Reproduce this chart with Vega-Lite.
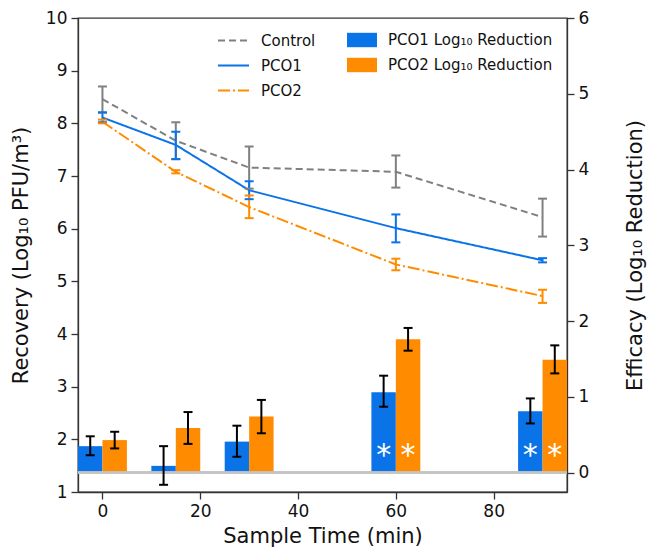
{
  "$schema": "https://vega.github.io/schema/vega-lite/v6.json",
  "width": 489,
  "height": 474,
  "padding": {"left": 10, "top": 9, "right": 5, "bottom": 5},
  "config": {
    "font": "DejaVu Sans",
    "view": {"stroke": "#333333", "strokeWidth": 1.3},
    "axis": {
      "grid": false,
      "domainColor": "#333333",
      "domainWidth": 1.3,
      "tickColor": "#333333",
      "tickWidth": 1.3,
      "tickSize": 7,
      "labelColor": "#111111",
      "titleColor": "#111111",
      "labelFontSize": 17,
      "titleFontSize": 21,
      "titleFontWeight": "normal",
      "labelPadding": 4
    },
    "legend": {"labelFontSize": 15, "labelColor": "#111111", "labelLimit": 0}
  },
  "datasets": {
    "lines": [
      {"series": "Control", "time": 0, "value": 8.46, "lo": 8.20, "hi": 8.70},
      {"series": "Control", "time": 15, "value": 7.67, "lo": 7.32, "hi": 8.02},
      {"series": "Control", "time": 30, "value": 7.16, "lo": 6.76, "hi": 7.56},
      {"series": "Control", "time": 60, "value": 7.08, "lo": 6.78, "hi": 7.39},
      {"series": "Control", "time": 90, "value": 6.22, "lo": 5.85, "hi": 6.57},
      {"series": "PCO1", "time": 0, "value": 8.11, "lo": 8.02, "hi": 8.21},
      {"series": "PCO1", "time": 15, "value": 7.59, "lo": 7.32, "hi": 7.84},
      {"series": "PCO1", "time": 30, "value": 6.73, "lo": 6.56, "hi": 6.90},
      {"series": "PCO1", "time": 60, "value": 6.01, "lo": 5.74, "hi": 6.27},
      {"series": "PCO1", "time": 90, "value": 5.40, "lo": 5.36, "hi": 5.44},
      {"series": "PCO2", "time": 0, "value": 8.03, "lo": 8.00, "hi": 8.07},
      {"series": "PCO2", "time": 15, "value": 7.08, "lo": 7.05, "hi": 7.11},
      {"series": "PCO2", "time": 30, "value": 6.41, "lo": 6.20, "hi": 6.63},
      {"series": "PCO2", "time": 60, "value": 5.32, "lo": 5.21, "hi": 5.43},
      {"series": "PCO2", "time": 90, "value": 4.72, "lo": 4.59, "hi": 4.84}
    ],
    "bars": [
      {"group": "PCO1", "time": 0, "value": 0.35, "lo": 0.23, "hi": 0.48, "sig": false},
      {"group": "PCO1", "time": 15, "value": 0.09, "lo": -0.16, "hi": 0.35, "sig": false},
      {"group": "PCO1", "time": 30, "value": 0.41, "lo": 0.21, "hi": 0.62, "sig": false},
      {"group": "PCO1", "time": 60, "value": 1.06, "lo": 0.87, "hi": 1.28, "sig": true},
      {"group": "PCO1", "time": 90, "value": 0.81, "lo": 0.65, "hi": 0.98, "sig": true},
      {"group": "PCO2", "time": 0, "value": 0.43, "lo": 0.32, "hi": 0.54, "sig": false},
      {"group": "PCO2", "time": 15, "value": 0.59, "lo": 0.38, "hi": 0.80, "sig": false},
      {"group": "PCO2", "time": 30, "value": 0.74, "lo": 0.52, "hi": 0.96, "sig": false},
      {"group": "PCO2", "time": 60, "value": 1.76, "lo": 1.61, "hi": 1.91, "sig": true},
      {"group": "PCO2", "time": 90, "value": 1.49, "lo": 1.31, "hi": 1.68, "sig": true}
    ]
  },
  "layer": [
    {
      "data": {"name": "bars"},
      "transform": [
        {"calculate": "datum.time + (datum.group === 'PCO1' ? -5 : 0)", "as": "x0"},
        {"calculate": "datum.x0 + 5", "as": "x1"},
        {"calculate": "datum.x0 + 2.5", "as": "xm"}
      ],
      "layer": [
        {
          "mark": {"type": "bar", "stroke": null},
          "encoding": {
            "x": {"field": "x0", "type": "quantitative", "scale": {"domain": [-5, 95], "nice": false, "zero": false},
              "axis": {"values": [0, 20, 40, 60, 80], "title": "Sample Time (min)", "titlePadding": 6}},
            "x2": {"field": "x1"},
            "y": {"field": "value", "type": "quantitative",
              "scale": {"domain": [-0.255, 6], "nice": false, "zero": false},
              "axis": {"orient": "right", "values": [0, 1, 2, 3, 4, 5, 6], "format": "d", "title": "Efficacy (Log₁₀ Reduction)", "titleAngle": 270, "titleBaseline": "top", "titlePadding": 36}},
            "y2": {"datum": 0},
            "fill": {"field": "group", "type": "nominal",
              "scale": {"domain": ["PCO1", "PCO2"], "range": ["#0A73E8", "#FF8C00"]},
              "legend": {"orient": "none", "legendX": 269, "legendY": 7, "title": null,
                "symbolType": "M-1,-0.48H1V0.48H-1Z", "symbolSize": 900, "symbolStrokeWidth": 0,
                "labelFontSize": 15, "rowPadding": 2, "labelOffset": 11, "labelLimit": 0,
                "labelExpr": "datum.label + ' Log₁₀ Reduction'"}}
          }
        },
        {
          "mark": {"type": "rule", "color": "#c4c4c4", "strokeWidth": 2},
          "encoding": {"y": {"datum": 0, "type": "quantitative"}}
        },
        {
          "mark": {"type": "rule", "color": "#000000", "strokeWidth": 2},
          "encoding": {
            "x": {"field": "xm", "type": "quantitative"},
            "y": {"field": "lo", "type": "quantitative"},
            "y2": {"field": "hi"}
          }
        },
        {
          "mark": {"type": "point", "shape": "stroke", "size": 81, "strokeWidth": 2, "color": "#000000", "opacity": 1},
          "encoding": {
            "x": {"field": "xm", "type": "quantitative"},
            "y": {"field": "lo", "type": "quantitative"}
          }
        },
        {
          "mark": {"type": "point", "shape": "stroke", "size": 81, "strokeWidth": 2, "color": "#000000", "opacity": 1},
          "encoding": {
            "x": {"field": "xm", "type": "quantitative"},
            "y": {"field": "hi", "type": "quantitative"}
          }
        },
        {
          "transform": [{"filter": "datum.sig"}],
          "mark": {"type": "text", "color": "#ffffff", "fontSize": 30, "baseline": "alphabetic", "align": "center"},
          "encoding": {
            "x": {"field": "xm", "type": "quantitative"},
            "y": {"datum": 0.1, "type": "quantitative"},
            "text": {"value": "*"}
          }
        }
      ]
    },
    {
      "data": {"name": "lines"},
      "layer": [
        {
          "mark": {"type": "line", "strokeWidth": 2},
          "encoding": {
            "x": {"field": "time", "type": "quantitative"},
            "y": {"field": "value", "type": "quantitative",
              "scale": {"domain": [1, 10], "nice": false, "zero": false},
              "axis": {"orient": "left", "values": [1, 2, 3, 4, 5, 6, 7, 8, 9, 10], "title": "Recovery (Log₁₀ PFU/m³)", "titlePadding": 14}},
            "stroke": {"field": "series", "type": "nominal",
              "scale": {"domain": ["Control", "PCO1", "PCO2"], "range": ["#808080", "#0A73E8", "#FF8C00"]},
              "legend": {"orient": "none", "legendX": 139, "legendY": 6, "title": null,
                "symbolType": "stroke", "symbolSize": 961, "symbolStrokeWidth": 2,
                "labelFontSize": 15, "rowPadding": 0, "labelOffset": 11}},
            "strokeDash": {"field": "series", "type": "nominal",
              "scale": {"domain": ["Control", "PCO1", "PCO2"], "range": [[7, 4], [1, 0], [12, 3, 2, 3]]},
              "legend": {"orient": "none", "legendX": 139, "legendY": 6, "title": null,
                "symbolType": "stroke", "symbolSize": 961, "symbolStrokeWidth": 2,
                "labelFontSize": 15, "rowPadding": 0, "labelOffset": 11}}
          }
        },
        {
          "mark": {"type": "rule", "strokeWidth": 2},
          "encoding": {
            "x": {"field": "time", "type": "quantitative"},
            "y": {"field": "lo", "type": "quantitative"},
            "y2": {"field": "hi"},
            "stroke": {"field": "series", "type": "nominal", "legend": null}
          }
        },
        {
          "mark": {"type": "point", "shape": "stroke", "size": 81, "strokeWidth": 2, "opacity": 1},
          "encoding": {
            "x": {"field": "time", "type": "quantitative"},
            "y": {"field": "lo", "type": "quantitative"},
            "stroke": {"field": "series", "type": "nominal", "legend": null}
          }
        },
        {
          "mark": {"type": "point", "shape": "stroke", "size": 81, "strokeWidth": 2, "opacity": 1},
          "encoding": {
            "x": {"field": "time", "type": "quantitative"},
            "y": {"field": "hi", "type": "quantitative"},
            "stroke": {"field": "series", "type": "nominal", "legend": null}
          }
        }
      ]
    }
  ],
  "resolve": {"scale": {"y": "independent"}, "axis": {"y": "independent"}}
}
